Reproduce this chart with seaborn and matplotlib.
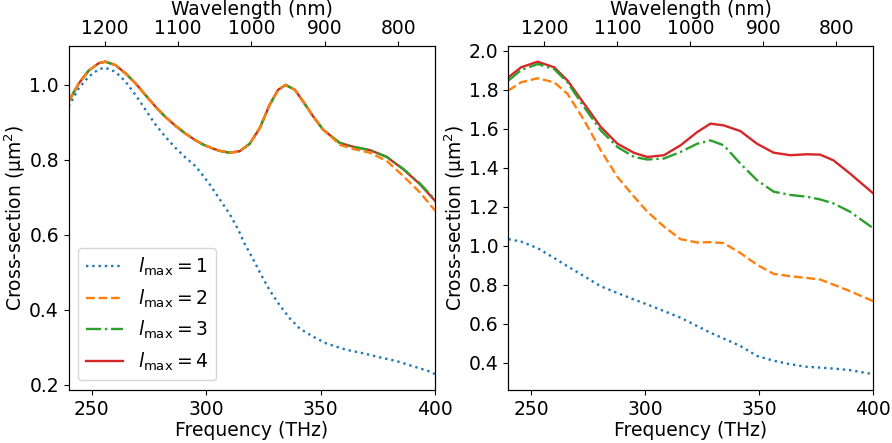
import numpy as np
import pandas as pd
import matplotlib
matplotlib.use("Agg")
import matplotlib.pyplot as plt
import seaborn as sns

# ---- Left panel data ----
freq_left_l1 = [240.0, 244.4, 248.7, 253.1, 256.0, 260.4, 264.8, 269.2, 273.5, 277.9, 282.3,
                286.6, 291.0, 295.4, 297.1, 301.5, 305.9, 310.3, 313.9, 316.8, 320.4, 324.1,
                327.7, 332.1, 336.5, 340.8, 346.7, 352.5, 357.6, 361.3, 368.5, 375.8, 383.1,
                390.4, 397.7, 400.0]
left_l1 = [0.943, 0.991, 1.022, 1.042, 1.046, 1.035, 1.009, 0.973, 0.934, 0.894, 0.861,
           0.832, 0.806, 0.783, 0.770, 0.735, 0.695, 0.655, 0.615, 0.576, 0.536, 0.492,
           0.452, 0.412, 0.377, 0.350, 0.328, 0.310, 0.300, 0.293, 0.284, 0.273, 0.263,
           0.249, 0.235, 0.228]

freq_left = [240.0, 244.4, 248.7, 253.1, 256.0, 260.4, 264.8, 269.2, 273.5, 277.9, 282.3,
             286.6, 291.0, 295.4, 299.0, 303.0, 306.0, 310.3, 314.6, 319.0, 323.4, 327.7,
             331.4, 334.7, 338.7, 342.3, 346.7, 351.0, 355.4, 358.4, 364.2, 371.5, 378.8,
             386.0, 393.3, 400.0]
left_l2 = [0.956, 1.004, 1.038, 1.058, 1.062, 1.053, 1.031, 1.004, 0.973, 0.942, 0.914,
           0.891, 0.870, 0.852, 0.840, 0.830, 0.824, 0.819, 0.823, 0.843, 0.885, 0.947,
           0.987, 1.000, 0.987, 0.956, 0.916, 0.881, 0.857, 0.840, 0.829, 0.819, 0.797,
           0.757, 0.713, 0.664]
left_l3 = [0.956, 1.004, 1.038, 1.058, 1.062, 1.053, 1.031, 1.004, 0.973, 0.942, 0.914,
           0.891, 0.870, 0.852, 0.840, 0.830, 0.824, 0.819, 0.823, 0.843, 0.885, 0.947,
           0.987, 1.000, 0.987, 0.956, 0.916, 0.881, 0.859, 0.845, 0.835, 0.826, 0.808,
           0.776, 0.737, 0.693]
left_l4 = [0.956, 1.004, 1.038, 1.058, 1.062, 1.053, 1.031, 1.004, 0.973, 0.942, 0.914,
           0.891, 0.870, 0.852, 0.840, 0.830, 0.824, 0.819, 0.823, 0.843, 0.885, 0.947,
           0.987, 1.000, 0.987, 0.956, 0.916, 0.881, 0.859, 0.845, 0.835, 0.826, 0.808,
           0.775, 0.735, 0.690]

# ---- Right panel data ----
freq_right = [240.0, 245.5, 252.8, 260.1, 265.9, 273.2, 280.5, 287.8, 295.1, 300.9, 308.2,
              315.5, 322.8, 328.6, 334.4, 341.7, 349.0, 356.3, 363.6, 370.9, 376.7, 382.5,
              389.8, 400.0]
right_l1 = [1.033, 1.021, 0.987, 0.936, 0.894, 0.843, 0.791, 0.757, 0.723, 0.698, 0.664,
            0.630, 0.587, 0.553, 0.523, 0.485, 0.434, 0.409, 0.391, 0.378, 0.374, 0.369,
            0.361, 0.340]
right_l2 = [1.796, 1.838, 1.859, 1.838, 1.779, 1.643, 1.489, 1.353, 1.251, 1.174, 1.098,
            1.033, 1.016, 1.018, 1.013, 0.962, 0.902, 0.855, 0.843, 0.834, 0.826, 0.800,
            0.766, 0.715]
right_l3 = [1.847, 1.901, 1.932, 1.906, 1.838, 1.711, 1.591, 1.506, 1.455, 1.442, 1.447,
            1.481, 1.523, 1.540, 1.515, 1.421, 1.336, 1.277, 1.260, 1.251, 1.237, 1.217,
            1.174, 1.089]
right_l4 = [1.864, 1.915, 1.944, 1.915, 1.847, 1.728, 1.609, 1.523, 1.476, 1.455, 1.464,
            1.515, 1.583, 1.626, 1.617, 1.588, 1.523, 1.477, 1.464, 1.469, 1.467, 1.438,
            1.370, 1.268]

series_labels = [r"$l_{\mathrm{max}} = 1$", r"$l_{\mathrm{max}} = 2$",
                 r"$l_{\mathrm{max}} = 3$", r"$l_{\mathrm{max}} = 4$"]
wavelength_ticks = [1200, 1100, 1000, 900, 800]
freq_ticks = [250, 300, 350, 400]
freq_range = (240, 400)

plt.rcParams["font.family"] = ["DejaVu Sans"]
plt.rcParams["font.size"] = 13.5

colors = ["#1f77b4", "#ff7f0e", "#2ca02c", "#d62728"]
styles = [":", "--", "-.", "-"]

C = 299792.458  # nm*THz

fig = plt.figure(figsize=(8.92, 4.43), dpi=100)
ax1 = fig.add_axes([0.077, 0.120, 0.411, 0.776])
ax2 = fig.add_axes([0.570, 0.120, 0.409, 0.776])

panels = [(ax1, [freq_left_l1, freq_left, freq_left, freq_left],
           [left_l1, left_l2, left_l3, left_l4]),
          (ax2, [freq_right] * 4, [right_l1, right_l2, right_l3, right_l4])]

for ax, frs, ys in panels:
    handles = [None] * 4
    # draw l=4 first so lower orders sit on top
    for i in [3, 2, 1, 0]:
        df = pd.DataFrame({"f": frs[i], "y": ys[i]})
        sns.lineplot(data=df, x="f", y="y", ax=ax, color=colors[i], linestyle=styles[i],
                     linewidth=1.7, legend=False, zorder=2 + (3 - i))
        handles[i] = ax.lines[-1]
    ax.set_xlim(*freq_range)
    ax.set_xticks(freq_ticks)
    ax.set_xlabel("Frequency (THz)", labelpad=2)
    ax.set_ylabel("Cross-section (μm$^2$)", labelpad=1)
    top = ax.twiny()
    top.set_xlim(C / freq_range[0], C / freq_range[1])
    top.set_xticks(wavelength_ticks)
    top.tick_params(axis="x", pad=2)
    top.set_xlabel("Wavelength (nm)", labelpad=3)
    if ax is ax1:
        ax1.legend(handles, series_labels, loc="lower left", fontsize=13.5,
                   handlelength=2.0)

ax2.set_yticks([0.4, 0.6, 0.8, 1.0, 1.2, 1.4, 1.6, 1.8, 2.0])

fig.savefig("out.png", dpi=100)
